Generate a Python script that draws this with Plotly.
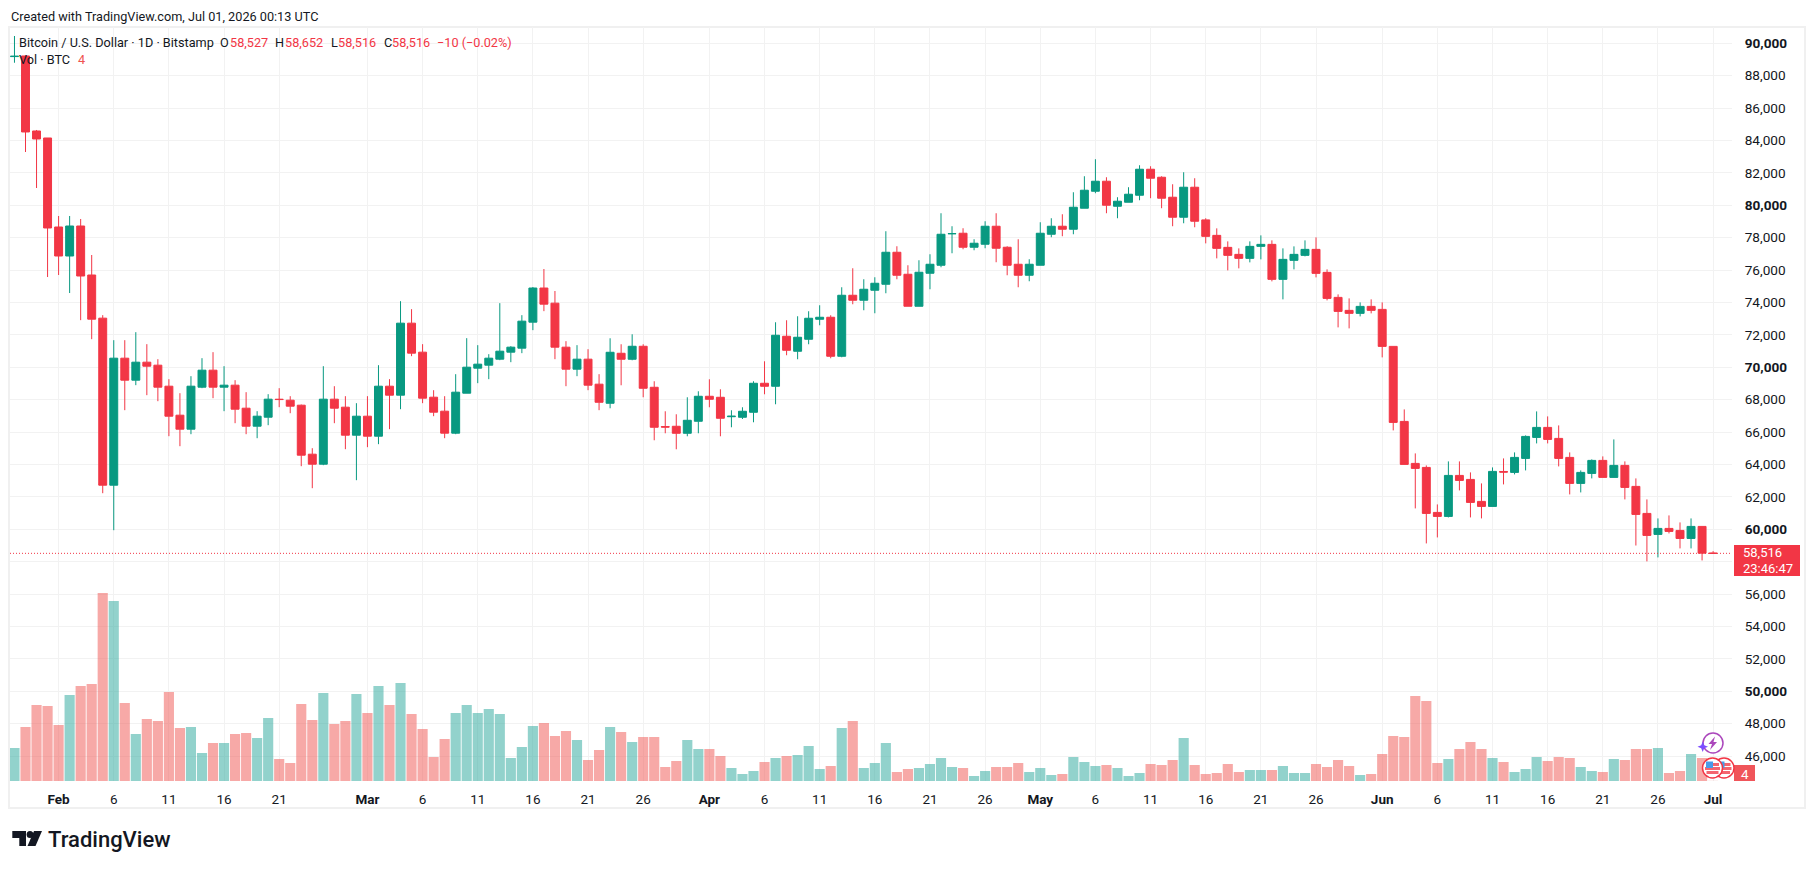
import pandas as pd
import plotly.graph_objects as go

W, H = 1815, 869
LEFT, RIGHT, TOP, BOTTOM = 10, 1732, 27, 781
PRICE_TOP, PRICE_BOT = 91006, 44463
UP, DOWN = "#089981", "#F23645"
UP_VOL, DOWN_VOL = "rgba(38,166,154,0.5)", "rgba(239,83,80,0.5)"
INK = "#131722"
GRID = "#f2f2f2"
FONT = "Roboto"

# Daily BTC/USD session data, 28 Jan 2026 to 1 Jul 2026
first_session = "2026-01-28"
opens = [
    89180, 89218, 84587, 84155, 78660, 76870, 78722, 75697, 73033, 62722, 70563, 69205, 70316, 70131, 68834, 67044,
    66180, 68773, 69822, 68773, 68896, 67476, 66365, 66920, 68030, 67970, 67661, 64636, 64019, 68032, 67538, 65809,
    66982, 65747, 68834, 68279, 72724, 70934, 68155, 67291, 65933, 68402, 69946, 70131, 70501, 70934, 71181, 72786,
    74894, 73959, 71242, 69884, 70501, 68958, 67779, 70866, 70496, 71298, 68767, 66340, 66360, 65927, 66668, 68211,
    68150, 66950, 66915, 67224, 69014, 68829, 71916, 70990, 71731, 72965, 73089, 70681, 74447, 74138, 74756, 75126,
    77102, 75744, 73768, 75805, 76299, 78240, 78275, 77411, 77596, 78707, 77411, 76361, 75682, 76299, 78213, 78707,
    78522, 79819, 80868, 81486, 79942, 80189, 80621, 82226, 81732, 80498, 79263, 81115, 79100, 78144, 77403, 76971,
    76724, 77465, 77588, 75428, 76601, 76909, 77280, 75860, 74316, 73514, 73329, 73760, 73575, 71291, 66660, 64068,
    63820, 61042, 60795, 63326, 63079, 61722, 61412, 63570, 63512, 64376, 65672, 66290, 65611, 64438, 62833, 63450,
    64253, 63204, 63944, 62648, 60980, 59684, 60054, 59931, 59436, 60178, 58527,
]
highs = [
    90450, 89250, 84650, 84155, 79340, 79340, 79155, 76932, 73218, 71674, 71674, 72168, 71428, 70501, 69267, 68402,
    69452, 70563, 70934, 70069, 69205, 68464, 67291, 68340, 68711, 68217, 67700, 65006, 70069, 68834, 68217, 67785,
    68217, 70131, 69267, 74082, 73588, 71428, 68587, 68217, 69575, 71798, 71366, 70810, 73959, 71304, 73218, 74956,
    76067, 74709, 71613, 71366, 71119, 69575, 71792, 71422, 72039, 71422, 69138, 67285, 67100, 68150, 68520, 69261,
    68644, 67347, 67532, 69138, 70372, 72780, 72904, 73151, 73459, 73830, 73212, 74941, 76114, 75435, 75558, 78399,
    77472, 76299, 76608, 76978, 79510, 78707, 78584, 77904, 79016, 79510, 77472, 77904, 76670, 78954, 79201, 79448,
    80806, 81794, 82844, 81732, 80498, 81115, 82473, 82411, 81794, 81300, 82041, 81671, 79200, 78576, 77774, 77341,
    77774, 78144, 77835, 77341, 77465, 77835, 78020, 76045, 74501, 74254, 74007, 74193, 74007, 71291, 67401, 64685,
    63944, 61536, 64191, 64191, 63512, 62833, 63820, 64376, 64747, 65796, 67278, 66969, 66413, 64747, 63635, 64315,
    64500, 65549, 64191, 63141, 61845, 60672, 60857, 60425, 60672, 60178, 58652,
]
lows = [
    88800, 83290, 81068, 75573, 75697, 74585, 72909, 71736, 62228, 59944, 67353, 68896, 68279, 67908, 65747, 65130,
    65871, 68711, 68094, 67291, 66550, 65871, 65624, 66426, 67538, 67167, 63895, 62537, 63957, 66550, 64945, 63031,
    65069, 65254, 66180, 67414, 70687, 67785, 66982, 65624, 65871, 68402, 69020, 69267, 70440, 70316, 70872, 72292,
    73465, 70501, 68834, 69452, 68587, 67353, 67471, 68890, 70434, 68150, 65495, 65927, 64939, 65742, 65927, 67532,
    65742, 66298, 66808, 66606, 68335, 67717, 70743, 70496, 71422, 72595, 70557, 70619, 73891, 73521, 73336, 74571,
    75435, 73768, 73768, 74817, 76176, 77040, 77287, 77225, 77349, 76485, 75682, 74941, 75311, 76299, 78028, 78090,
    78213, 79819, 80745, 79510, 79201, 80189, 80312, 80436, 79819, 78707, 78892, 78645, 77650, 76724, 75983, 76107,
    76477, 76662, 75304, 74193, 76045, 76848, 75551, 74131, 72464, 72402, 73143, 73329, 70612, 66105, 64006, 61289,
    59128, 59498, 60734, 62400, 60734, 60672, 61412, 62771, 63388, 63635, 65302, 65302, 63882, 62153, 62277, 63142,
    63204, 63204, 61845, 58999, 58019, 58265, 59745, 58820, 58820, 58078, 58516,
]
closes = [
    89200, 84526, 84094, 78599, 76870, 78722, 75635, 72970, 62722, 70563, 69205, 70316, 70069, 68773, 66982, 66180,
    68834, 69822, 68773, 68896, 67414, 66365, 66982, 68032, 68010, 67600, 64574, 64019, 68032, 67476, 65809, 66982,
    65747, 68834, 68279, 72724, 70872, 68094, 67229, 65933, 68464, 70007, 70193, 70563, 70995, 71243, 72848, 74894,
    73897, 71242, 69884, 70501, 68896, 67841, 70928, 70496, 71298, 68705, 66298, 66310, 65927, 66729, 68211, 68026,
    66853, 66980, 67285, 69014, 68829, 71978, 71051, 71854, 73027, 73089, 70681, 74447, 74138, 74817, 75188, 77102,
    75682, 73768, 75867, 76361, 78213, 78254, 77411, 77658, 78707, 77349, 76299, 75682, 76361, 78275, 78707, 78522,
    79880, 80930, 81486, 80004, 80251, 80683, 82226, 81671, 80436, 79263, 81115, 79016, 78082, 77341, 76909, 76724,
    77465, 77588, 75428, 76662, 76971, 77280, 75798, 74254, 73452, 73329, 73760, 73514, 71291, 66599, 64006, 63759,
    60980, 60795, 63326, 63017, 61660, 61412, 63574, 63530, 64438, 65734, 66290, 65549, 64376, 62833, 63512, 64253,
    63204, 63944, 62586, 60919, 59622, 60054, 59869, 59436, 60178, 58526, 58516,
]
volumes = [
    990, 1620, 2280, 2250, 1680, 2580, 2850, 2910, 5640, 5400, 2340, 1410, 1860, 1800, 2670, 1590,
    1620, 840, 1140, 1140, 1410, 1440, 1290, 1890, 660, 540, 2310, 1830, 2640, 1710, 1800, 2610,
    2040, 2850, 2280, 2940, 2010, 1560, 720, 1260, 2040, 2280, 2040, 2160, 2010, 690, 1020, 1650,
    1740, 1350, 1500, 1230, 630, 930, 1620, 1470, 1170, 1320, 1320, 420, 600, 1230, 960, 960,
    750, 390, 210, 300, 570, 690, 750, 780, 1050, 360, 450, 1590, 1800, 390, 540, 1140,
    270, 360, 390, 510, 690, 420, 390, 150, 300, 420, 420, 540, 270, 390, 180, 210,
    720, 570, 450, 480, 390, 150, 240, 510, 480, 630, 1290, 480, 210, 240, 510, 270,
    330, 330, 330, 450, 240, 240, 510, 420, 630, 450, 180, 210, 810, 1350, 1320, 2550,
    2400, 540, 660, 960, 1170, 960, 690, 570, 270, 360, 720, 600, 720, 690, 420, 300,
    270, 660, 630, 960, 960, 990, 240, 300, 810, 690, 4,
]
VOLUME_CEILING = 22620

month_ticks = {"2026-02-01": "Feb", "2026-03-01": "Mar", "2026-04-01": "Apr", "2026-05-01": "May",
               "2026-06-01": "Jun", "2026-07-01": "Jul"}
day_numbers = [6, 11, 16, 21, 26]
price_ticks = list(range(46000, 90001, 2000))
hidden_price_tick = 58000  # covered by the last-price tag, so its gridline stays but its label goes
last_price = closes[-1]
countdown = "23:46:47"


def px(x):
    return x / W


def py(y):
    return 1 - y / H


def path(points):
    return "M " + " L ".join(f"{px(x):.5f},{py(y):.5f}" for x, y in points) + " Z"


def price_text(v):
    if v == hidden_price_tick:
        return ""
    return f"<b>{v:,}</b>" if v % 10000 == 0 else f"{v:,}"


dates = pd.date_range(first_session, periods=len(closes), freq="D")

# Time axis ticks: month names in bold, then every fifth day, leaving out any
# day number that would crowd the following month's label.
tick_dates, tick_text = [], []
for month_start, name in month_ticks.items():
    start = pd.Timestamp(month_start)
    tick_dates.append(start)
    tick_text.append(f"<b>{name}</b>")
    next_month = start + pd.offsets.MonthBegin(1)
    for d in day_numbers:
        day = start.replace(day=d)
        if day <= dates[-1] and (next_month - day).days >= 5:
            tick_dates.append(day)
            tick_text.append(str(d))

day_px = 11.03
x0_day = (LEFT - 58.6) / day_px
x1_day = (RIGHT - 58.6) / day_px
feb1 = pd.Timestamp("2026-02-01")
x_range = [feb1 + pd.Timedelta(days=x0_day), feb1 + pd.Timedelta(days=x1_day)]

fig = go.Figure()
fig.add_trace(go.Bar(
    x=dates, y=volumes, yaxis="y2",
    marker=dict(color=[UP_VOL if c >= o else DOWN_VOL for o, c in zip(opens, closes)], line_width=0),
    hoverinfo="skip", showlegend=False,
))
fig.add_trace(go.Candlestick(
    x=dates, open=opens, high=highs, low=lows, close=closes, whiskerwidth=0,
    increasing=dict(line=dict(color=UP, width=1), fillcolor=UP),
    decreasing=dict(line=dict(color=DOWN, width=1), fillcolor=DOWN),
    showlegend=False,
))

shapes = [
    # Outer chart frame
    dict(type="rect", xref="paper", yref="paper", x0=px(9), x1=px(1805), y0=py(808), y1=py(27),
         line=dict(color="#f0f0f0", width=2), fillcolor="rgba(0,0,0,0)", layer="below"),
    # Last-price marker line
    dict(type="line", xref="paper", yref="y", x0=px(LEFT), x1=px(RIGHT), y0=last_price, y1=last_price,
         line=dict(color=DOWN, width=1, dash="1px,2px")),
    # Price and volume labels on the scale
    dict(type="rect", xref="paper", yref="paper", x0=px(1734), x1=px(1800), y0=py(576), y1=py(545),
         line_width=0, fillcolor=DOWN),
    dict(type="rect", xref="paper", yref="paper", x0=px(1734), x1=px(1755), y0=py(781), y1=py(765),
         line_width=0, fillcolor="#F0555A"),
]


def flag_badge(cx, cy):
    items = [dict(type="circle", xref="paper", yref="paper", x0=px(cx - 10), x1=px(cx + 10), y0=py(cy + 10),
                  y1=py(cy - 10), line=dict(color="#F23645", width=1.5), fillcolor="#ffffff")]
    for dy, half in ((-3.5, 6.5), (0.5, 7.5), (4.5, 6)):
        items.append(dict(type="rect", xref="paper", yref="paper", x0=px(cx - half), x1=px(cx + half),
                          y0=py(cy + dy + 1.5), y1=py(cy + dy - 1.5), line_width=0, fillcolor="#F4656F"))
    items.append(dict(type="rect", xref="paper", yref="paper", x0=px(cx - 6.5), x1=px(cx + 0.5), y0=py(cy),
                      y1=py(cy - 6.5), line_width=0, fillcolor="#4A9BE8"))
    return items


shapes += flag_badge(1724, 768) + flag_badge(1712.5, 768)
shapes += [
    dict(type="circle", xref="paper", yref="paper", x0=px(1703), x1=px(1723), y0=py(753), y1=py(733),
         line=dict(color="#AB47BC", width=1.5), fillcolor="#ffffff"),
    dict(type="path", xref="paper", yref="paper", line_width=0, fillcolor="#AB47BC",
         path=path([(1715, 736.5), (1708.5, 744), (1712, 744), (1710, 750), (1717, 742), (1713.5, 742)])),
    dict(type="path", xref="paper", yref="paper", line_width=0, fillcolor="#7C4DFF",
         path=path([(1702.7, 741.5), (1704.2, 745.2), (1708, 746.7), (1704.2, 748.2), (1702.7, 752),
                    (1701.2, 748.2), (1697.5, 746.7), (1701.2, 745.2)])),
    # TradingView mark
    dict(type="path", xref="paper", yref="paper", line_width=0, fillcolor=INK,
         path=path([(12.3, 831), (26, 831), (26, 846), (19.3, 846), (19.3, 838), (12.3, 838)])),
    dict(type="circle", xref="paper", yref="paper", x0=px(26.6), x1=px(33.4), y0=py(838), y1=py(831),
         line_width=0, fillcolor=INK),
    dict(type="path", xref="paper", yref="paper", line_width=0, fillcolor=INK,
         path=path([(34, 831), (42, 831), (35.5, 846), (27.5, 846)])),
]


def label(x, y, text, color=INK, size=12.7, weight=None, anchor="left", height=None):
    font = dict(family=FONT, size=size, color=color)
    if weight:
        font["weight"] = weight
    item = dict(xref="paper", yref="paper", x=px(x), y=py(y), text=text, showarrow=False, xanchor=anchor,
                yanchor="middle", font=font, borderpad=0)
    if height:
        item["height"] = height
    return item


annotations = [
    label(10, 16, "Created with TradingView.com, Jul 01, 2026 00:13 UTC"),
    label(18.4, 43, "Bitcoin / U.S. Dollar · 1D · Bitstamp"),
    label(219, 43, "O"), label(228.5, 43, f"{opens[-1]:,}", DOWN),
    label(274.4, 43, "H"), label(283.6, 43, f"{highs[-1]:,}", DOWN),
    label(330, 43, "L"), label(337, 43, f"{lows[-1]:,}", DOWN),
    label(382.7, 43, "C"), label(390.7, 43, f"{closes[-1]:,}", DOWN),
    label(436.3, 43, "−10 (−0.02%)", DOWN),
    label(18.4, 60, "Vol · BTC"), label(76.5, 60, str(volumes[-1]), "#EF5350"),
    label(1742, 552, f"{last_price:,}", "#ffffff", size=13, height=13),
    label(1742, 568, countdown, "#ffffff", size=13, height=13),
    label(1744.5, 773.5, str(volumes[-1]), "#ffffff", size=13.5, anchor="center"),
    label(47, 839, "TradingView", "#131722", size=22, weight=500),
]

fig.update_layout(
    width=W, height=H, margin=dict(l=0, r=0, t=0, b=0), paper_bgcolor="#ffffff", plot_bgcolor="#ffffff",
    font=dict(family=FONT, size=13, color=INK), bargap=0.08, boxgap=0.28, boxgroupgap=0, showlegend=False,
    hovermode=False, shapes=shapes, annotations=annotations,
    xaxis=dict(
        domain=[px(LEFT), px(RIGHT)], range=x_range, type="date", rangeslider_visible=False,
        tickmode="array", tickvals=tick_dates, ticktext=tick_text, ticks="outside", ticklen=6,
        tickcolor="rgba(0,0,0,0)", showgrid=True, gridcolor=GRID, gridwidth=1, showline=False, zeroline=False,
        tickfont=dict(family=FONT, size=13.5, color=INK),
    ),
    yaxis=dict(
        domain=[py(BOTTOM), py(TOP)], range=[PRICE_BOT, PRICE_TOP], side="right", tickmode="array",
        tickvals=price_ticks,
        ticktext=[price_text(v) for v in price_ticks],
        ticks="outside", ticklen=9, tickcolor="rgba(0,0,0,0)", showgrid=True, gridcolor=GRID, gridwidth=1,
        zeroline=False, showline=False, tickfont=dict(family=FONT, size=13.6, color=INK),
    ),
    yaxis2=dict(domain=[py(BOTTOM), py(TOP)], overlaying="y", range=[0, VOLUME_CEILING], visible=False),
)

fig.write_html("out.html")
